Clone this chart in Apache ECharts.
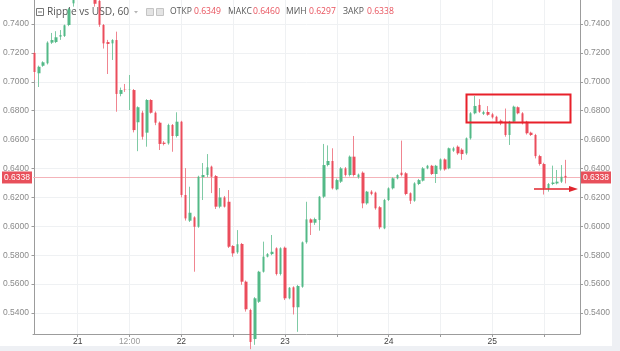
<!DOCTYPE html>
<html>
<head>
<meta charset="utf-8">
<script src="https://cdn.jsdelivr.net/npm/echarts@6/dist/echarts.min.js"></script>
<style>
html, body { margin: 0; padding: 0; background: #fff; }
#chart { width: 620px; height: 351px; }
</style>
</head>
<body>
<div id="chart"></div>
<script>
// hourly XRP/USD candles, 20 - 25
var opens = [
  0.7200, 0.7059, 0.7111, 0.7128, 0.7271, 0.7275, 0.7312, 0.7317, 0.7393, 0.7543,
  0.7610, 0.7680, 0.7640, 0.7720, 0.7700, 0.7560, 0.7393, 0.7275, 0.7266, 0.7289,
  0.6916, 0.6947, 0.6943, 0.6943, 0.6720, 0.6786, 0.6648, 0.6874, 0.6786, 0.6717,
  0.6579, 0.6574, 0.6701, 0.6625, 0.6724, 0.6217, 0.6039, 0.6062, 0.5997, 0.6340,
  0.6355, 0.6413, 0.6348, 0.6136, 0.6200, 0.6170, 0.5864, 0.5820, 0.5878, 0.5617,
  0.5421, 0.5220, 0.5478, 0.5686, 0.5790, 0.5808, 0.5848, 0.5670, 0.5852, 0.5502,
  0.5578, 0.5440, 0.5582, 0.5890, 0.6048, 0.6025, 0.6044, 0.6205, 0.6424, 0.6452,
  0.6256, 0.6309, 0.6401, 0.6355, 0.6482, 0.6340, 0.6371, 0.6159, 0.6240, 0.6233,
  0.6132, 0.5986, 0.6182, 0.6263, 0.6332, 0.6371, 0.6367, 0.6229, 0.6177, 0.6293,
  0.6316, 0.6401, 0.6419, 0.6362, 0.6394, 0.6463, 0.6401, 0.6523, 0.6551, 0.6530,
  0.6505, 0.6609, 0.6782, 0.6840, 0.6777, 0.6791, 0.6775, 0.6758, 0.6731, 0.6724,
  0.6632, 0.6724, 0.6824, 0.6782, 0.6724, 0.6648, 0.6632, 0.6486, 0.6431, 0.6263,
  0.6293, 0.6297, 0.6309, 0.6349
];
var closes = [
  0.7068, 0.7104, 0.7135, 0.7271, 0.7289, 0.7308, 0.7324, 0.7391, 0.7502, 0.7610,
  0.7680, 0.7640, 0.7720, 0.7680, 0.7540, 0.7395, 0.7266, 0.7262, 0.7289, 0.6916,
  0.6943, 0.6945, 0.6946, 0.6666, 0.6824, 0.6620, 0.6874, 0.6786, 0.6717, 0.6570,
  0.6570, 0.6701, 0.6625, 0.6724, 0.6217, 0.6055, 0.6094, 0.5997, 0.6343, 0.6355,
  0.6408, 0.6343, 0.6136, 0.6200, 0.6136, 0.5859, 0.5813, 0.5876, 0.5617, 0.5426,
  0.5200, 0.5502, 0.5686, 0.5790, 0.5808, 0.5824, 0.5670, 0.5848, 0.5502, 0.5575,
  0.5440, 0.5587, 0.5889, 0.6048, 0.6025, 0.6050, 0.6205, 0.6424, 0.6452, 0.6263,
  0.6320, 0.6401, 0.6355, 0.6482, 0.6355, 0.6358, 0.6159, 0.6240, 0.6224, 0.6125,
  0.5993, 0.6182, 0.6263, 0.6332, 0.6355, 0.6355, 0.6224, 0.6177, 0.6297, 0.6320,
  0.6401, 0.6419, 0.6362, 0.6419, 0.6463, 0.6394, 0.6540, 0.6540, 0.6505, 0.6500,
  0.6609, 0.6782, 0.6833, 0.6793, 0.6791, 0.6772, 0.6754, 0.6724, 0.6713, 0.6632,
  0.6724, 0.6828, 0.6782, 0.6713, 0.6644, 0.6632, 0.6486, 0.6431, 0.6263, 0.6293,
  0.6303, 0.6309, 0.6343, 0.6338
];
var lows = [
  0.7012, 0.6964, 0.7104, 0.7120, 0.7262, 0.7268, 0.7290, 0.7310, 0.7385, 0.7520,
  0.7590, 0.7620, 0.7630, 0.7650, 0.7520, 0.7380, 0.7230, 0.7054, 0.7151, 0.6793,
  0.6900, 0.6930, 0.6805, 0.6650, 0.6520, 0.6600, 0.6551, 0.6780, 0.6700, 0.6528,
  0.6560, 0.6565, 0.6516, 0.6615, 0.6200, 0.6040, 0.6030, 0.5686, 0.5990, 0.6182,
  0.6340, 0.6230, 0.6120, 0.6125, 0.6130, 0.5850, 0.5790, 0.5810, 0.5595, 0.5410,
  0.5150, 0.5180, 0.5470, 0.5680, 0.5785, 0.5800, 0.5660, 0.5660, 0.5490, 0.5495,
  0.5390, 0.5270, 0.5575, 0.5880, 0.5940, 0.6010, 0.5970, 0.6195, 0.6415, 0.6255,
  0.6250, 0.6300, 0.6345, 0.6345, 0.6345, 0.6330, 0.6125, 0.6150, 0.6215, 0.6115,
  0.5980, 0.5980, 0.6175, 0.6255, 0.6325, 0.6345, 0.6215, 0.6155, 0.6170, 0.6285,
  0.6310, 0.6395, 0.6355, 0.6300, 0.6385, 0.6385, 0.6395, 0.6515, 0.6495, 0.6460,
  0.6495, 0.6600, 0.6775, 0.6785, 0.6770, 0.6765, 0.6745, 0.6715, 0.6700, 0.6620,
  0.6563, 0.6715, 0.6775, 0.6705, 0.6635, 0.6625, 0.6470, 0.6420, 0.6220, 0.6240,
  0.6285, 0.6290, 0.6300, 0.6297
];
var highs = [
  0.7205, 0.7112, 0.7142, 0.7280, 0.7338, 0.7350, 0.7358, 0.7396, 0.7512, 0.7625,
  0.7700, 0.7720, 0.7750, 0.7740, 0.7710, 0.7575, 0.7400, 0.7290, 0.7295, 0.7347,
  0.6960, 0.6985, 0.7047, 0.6950, 0.6830, 0.6800, 0.6880, 0.6880, 0.6795, 0.6725,
  0.6590, 0.6710, 0.6708, 0.6789, 0.6730, 0.6403, 0.6274, 0.6070, 0.6350, 0.6438,
  0.6500, 0.6420, 0.6355, 0.6265, 0.6210, 0.6251, 0.5870, 0.5974, 0.5885, 0.5625,
  0.5430, 0.5510, 0.5692, 0.5894, 0.5815, 0.5940, 0.5855, 0.5855, 0.5860, 0.5580,
  0.5585, 0.5595, 0.5895, 0.6170, 0.6055, 0.6060, 0.6210, 0.6570, 0.6560, 0.6540,
  0.6330, 0.6410, 0.6410, 0.6490, 0.6625, 0.6365, 0.6380, 0.6245, 0.6250, 0.6240,
  0.6140, 0.6190, 0.6270, 0.6340, 0.6360, 0.6593, 0.6375, 0.6235, 0.6305, 0.6328,
  0.6410, 0.6425, 0.6425, 0.6425, 0.6470, 0.6470, 0.6545, 0.6550, 0.6560, 0.6540,
  0.6615, 0.6790, 0.6902, 0.6880, 0.6800, 0.6832, 0.6785, 0.6765, 0.6740, 0.6815,
  0.6730, 0.6835, 0.6830, 0.6790, 0.6730, 0.6655, 0.6640, 0.6495, 0.6440, 0.6300,
  0.6420, 0.6390, 0.6424, 0.6460
];

var timeTicks = [10, 22, 34, 46, 58, 70, 82, 94, 106, 118];
var timeLabelPos = [10, 22, 34, 58, 82, 106];
var timeLabels = ['21', '12:00', '22', '23', '24', '25'];
var priceTicks = [0.54, 0.56, 0.58, 0.60, 0.62, 0.64, 0.66, 0.68, 0.70, 0.72, 0.74];
var lastPrice = 0.6338;
var legendNames = ['ОТКР', 'МАКС', 'МИН', 'ЗАКР'];
var legendValues = ['0.6349', '0.6460', '0.6297', '0.6338'];

var upColor = '#53b987';
var downColor = '#eb4d5c';

var wickData = opens.map(function (o, i) {
  return [i, o, closes[i], lows[i], highs[i]];
});
var bodyData = opens.map(function (o, i) {
  return [i, o, closes[i], Math.min(o, closes[i]), Math.max(o, closes[i])];
});

function priceAxis(pos, showSplit) {
  return {
    type: 'value',
    position: pos,
    min: 0.5255,
    max: 0.7566,
    axisLine: { show: true, lineStyle: { color: '#9c9c9c' } },
    axisTick: { show: true, customValues: priceTicks, length: 3, lineStyle: { color: '#9c9c9c' } },
    axisLabel: {
      customValues: priceTicks,
      formatter: function (v) { return v.toFixed(4); },
      color: '#8a8a8a',
      fontSize: 8.5,
      fontFamily: 'Liberation Sans',
      margin: 4
    },
    splitLine: { show: showSplit, lineStyle: { color: '#eff1f3' } }
  };
}

var priceBadge = {
  show: true,
  formatter: function () { return lastPrice.toFixed(4); },
  backgroundColor: '#e8505b',
  color: '#fff',
  fontSize: 8.5,
  fontFamily: 'Liberation Sans',
  padding: [2, 2, 1, 2],
  distance: 1
};
var priceLineStyle = { color: '#f4b3b9', width: 1, type: 'solid' };

var headerItems = [
  { type: 'rect', shape: { x: 36.5, y: 8.5, width: 7, height: 7 }, style: { fill: 'none', stroke: '#777', lineWidth: 1 } },
  { type: 'line', shape: { x1: 38, y1: 12, x2: 42, y2: 12 }, style: { stroke: '#777', lineWidth: 1 } },
  { type: 'text', x: 47, y: 12, style: { text: 'Ripple vs USD, 60', fill: '#555', font: '10.2px "Open Sans"', verticalAlign: 'middle' } },
  { type: 'polygon', shape: { points: [[134, 11], [138, 11], [136, 13.5]] }, style: { fill: '#b5b5b5' } },
  { type: 'rect', shape: { x: 146.5, y: 8.5, width: 7, height: 7 }, style: { fill: '#e4e4e4', stroke: '#c4c4c4', lineWidth: 1 } },
  { type: 'rect', shape: { x: 156.5, y: 8.5, width: 7, height: 7 }, style: { fill: '#e4e4e4', stroke: '#c4c4c4', lineWidth: 1 } }
];
var legendNameX = [170, 228, 286, 343];
var legendValueX = [194, 253, 309, 367];
legendNames.forEach(function (n, k) {
  headerItems.push({ type: 'text', x: legendNameX[k], y: 12, style: { text: n, fill: '#555', font: '8.6px "Open Sans"', verticalAlign: 'middle' } });
  headerItems.push({ type: 'text', x: legendValueX[k], y: 12, style: { text: legendValues[k], fill: '#e8505b', font: '8.6px "Open Sans"', verticalAlign: 'middle' } });
});

var myChart = echarts.init(document.getElementById('chart'), null, { renderer: 'canvas' });
var option = {
  animation: false,
  backgroundColor: '#fff',
  grid: { left: 32, right: 40, top: 0, bottom: 17 },
  xAxis: {
    type: 'value',
    min: -0.35,
    max: 126.3,
    axisLine: { show: true, lineStyle: { color: '#9c9c9c' } },
    axisTick: { show: true, customValues: timeTicks, length: 3, lineStyle: { color: '#9c9c9c' } },
    axisLabel: {
      customValues: timeLabelPos,
      formatter: function (v) {
        var t = timeLabels[timeLabelPos.indexOf(v)];
        return t === '12:00' ? '{t|' + t + '}' : '{d|' + t + '}';
      },
      margin: 3,
      rich: {
        d: { color: '#444', fontSize: 8.5, fontFamily: 'Liberation Sans' },
        t: { color: '#9a9a9a', fontSize: 8.5, fontFamily: 'Liberation Sans' }
      }
    },
    splitLine: { show: true, lineStyle: { color: '#eff1f3' } }
  },
  yAxis: [priceAxis('left', true), priceAxis('right', false)],
  series: [
    {
      name: 'wick',
      type: 'candlestick',
      encode: { x: 0, y: [1, 2, 3, 4] },
      data: wickData,
      barWidth: 1,
      z: 3,
      itemStyle: { color: '#7fcaa5', color0: '#f08590', borderColor: '#7fcaa5', borderColor0: '#f08590', borderWidth: 1 },
      silent: true,
      markLine: {
        silent: true,
        symbol: 'none',
        precision: 4,
        z: 1,
        lineStyle: priceLineStyle,
        data: [
          { yAxis: lastPrice, lineStyle: priceLineStyle, label: Object.assign({ position: 'start' }, priceBadge) },
          { yAxis: lastPrice, lineStyle: priceLineStyle, label: Object.assign({ position: 'end' }, priceBadge) }
        ]
      }
    },
    {
      name: 'body',
      type: 'candlestick',
      encode: { x: 0, y: [1, 2, 3, 4] },
      data: bodyData,
      barWidth: 3,
      z: 4,
      itemStyle: { color: upColor, color0: downColor, borderColor: upColor, borderColor0: downColor, borderWidth: 0 },
      silent: true
    }
  ],
  graphic: [
    { type: 'rect', shape: { x: 612, y: 0, width: 8, height: 351 }, style: { fill: '#eef0f4' }, z: 1 },
    { type: 'rect', shape: { x: 0, y: 346, width: 620, height: 5 }, style: { fill: '#eef0f4' }, z: 1 },
    { type: 'group', children: headerItems, z: 10 },
    { type: 'rect', shape: { x: 466.5, y: 94.5, width: 104, height: 28 }, style: { fill: 'none', stroke: '#e8202a', lineWidth: 2 }, z: 10 },
    { type: 'line', shape: { x1: 534, y1: 189, x2: 572, y2: 189 }, style: { stroke: '#e0252d', lineWidth: 1.5 }, z: 10 },
    { type: 'polygon', shape: { points: [[569, 186], [578, 189], [569, 192]] }, style: { fill: '#e0252d' }, z: 10 }
  ]
};
myChart.setOption(option);
window.onresize = myChart.resize;
</script>
</body>
</html>
